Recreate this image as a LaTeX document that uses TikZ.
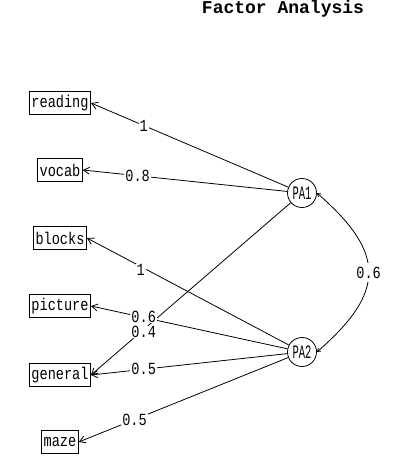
\documentclass[tikz,border=0pt]{standalone}
\usepackage{fontspec}
\newfontfamily\lblfont[FakeStretch=0.8]{Liberation Mono}
\newfontfamily\pafont[FakeStretch=0.55]{Liberation Mono}
\newfontfamily\titlefont{Liberation Mono}
\usetikzlibrary{arrows.meta,calc}
\begin{document}
\begin{tikzpicture}[x=1pt,y=-1pt,
  var/.style={draw, line width=0.8pt, font=\lblfont\fontsize{17}{17}\selectfont,
    inner xsep=2pt, inner ysep=0pt, minimum height=23pt},
  fac/.style={draw, circle, line width=0.8pt, minimum size=29pt, inner sep=0pt,
    font=\pafont\fontsize{19}{19}\selectfont},
  lbl/.style={fill=white, inner xsep=1pt, inner ysep=0pt, font=\lblfont\fontsize{17}{17}\selectfont},
  load/.style={line width=0.8pt, -{Straight Barb[length=6pt,width=7pt]}},
  corr/.style={line width=0.8pt, {Straight Barb[length=3pt,width=4pt]}-{Straight Barb[length=3pt,width=4pt]}}]
\useasboundingbox (0,0) rectangle (407,466);
\node[font=\titlefont\bfseries\fontsize{18}{18}\selectfont] (title) at (283,9) {Factor Analysis};
\node[var] (reading) at (60,103) {reading};
\node[var] (vocab) at (60,170) {vocab};
\node[var] (blocks) at (60,238) {blocks};
\node[var] (picture) at (60,306) {picture};
\node[var] (general) at (60,375) {general};
\node[var] (maze) at (60,442) {maze};
\node[fac] (PA1) at (302,193) {PA1};
\node[fac] (PA2) at (302,352) {PA2};
\draw[load] (PA1) -- (reading.east);
\draw[load] (PA1) -- (vocab.east);
\draw[load] (PA1) -- (general.east);
\draw[load] (PA2) -- (blocks.east);
\draw[load] (PA2) -- (picture.east);
\draw[load] (PA2) -- (general.east);
\draw[load] (PA2) -- (maze.east);
\draw[corr] (PA1.east) .. controls +(69,60) and +(69,-60) .. (PA2.east)
  node[lbl, inner ysep=4pt, pos=0.5] (c12) {0.6};
\node[lbl] (l1) at ($(PA1)!0.75!(reading.east)$) {1};
\node[lbl] (l2) at ($(PA1)!0.75!(vocab.east)$) {0.8};
\node[lbl] (l3) at ($(PA1)!0.75!(general.east)+(0,2.5)$) {0.4};
\node[lbl] (l4) at ($(PA2)!0.75!(blocks.east)+(0,3)$) {1};
\node[lbl] (l5) at ($(PA2)!0.75!(picture.east)+(0,-0.5)$) {0.6};
\node[lbl] (l6) at ($(PA2)!0.75!(general.east)$) {0.5};
\node[lbl] (l7) at ($(PA2)!0.75!(maze.east)$) {0.5};
\end{tikzpicture}
\end{document}
